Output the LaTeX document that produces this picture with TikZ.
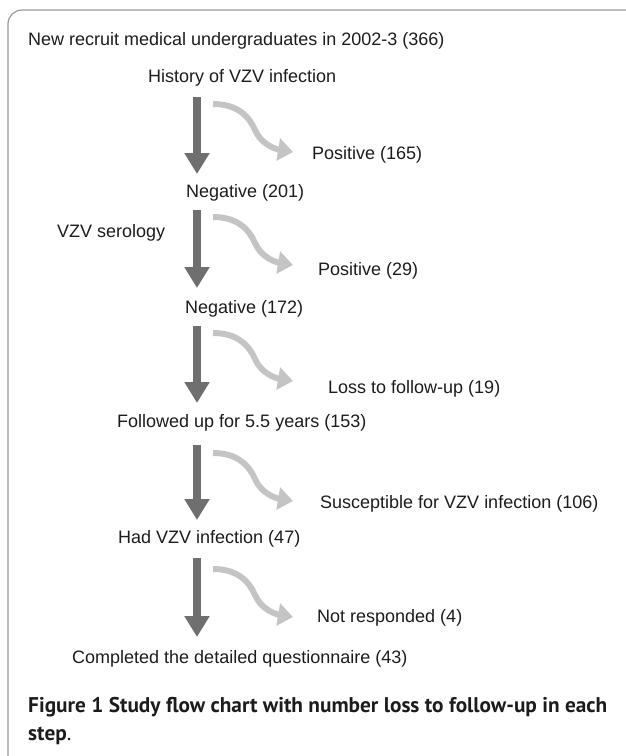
\documentclass[tikz,border=0pt]{standalone}
\usepackage{fontspec}
\setmainfont{Liberation Sans}
\newfontfamily\capfont{PT Sans}
\usepackage{tikz}
\usetikzlibrary{arrows.meta}
\definecolor{framegray}{HTML}{9A9A9A}
\definecolor{darkflow}{HTML}{6F6F6F}
\definecolor{paleflow}{HTML}{C4C4C4}
\definecolor{inkblack}{HTML}{1C1C1C}

\begin{document}
\begin{tikzpicture}[x=1pt,y=-1pt,every node/.style={inner sep=0pt,anchor=base west,text=inkblack,font=\fontsize{18}{21}\selectfont},
  mainflow/.style={draw=darkflow,line width=8pt,-{Triangle[length=21pt,width=24pt]}},
  lossflow/.style={draw=paleflow,line width=6pt,-{Triangle[length=15pt,width=22pt]}}]
\useasboundingbox (0,0) rectangle (626,756);
\draw[framegray,line width=1.2pt,rounded corners=14pt] (8,756) -- (8,10) -- (626,10);

\node (title) at (28,45) {New recruit medical undergraduates in 2002-3 (366)};
\node (hist) at (148,82) {History of VZV infection};
\node (pos1) at (312,159) {Positive (165)};
\node (neg1) at (186,197) {Negative (201)};
\node (sero) at (57,237) {VZV serology};
\node (pos2) at (318,275) {Positive (29)};
\node (neg2) at (185,313) {Negative (172)};
\node (loss) at (328,393) {Loss to follow-up (19)};
\node (follow) at (117,427) {Followed up for 5.5 years (153)};
\node (susc) at (320,508) {Susceptible for VZV infection (106)};
\node (had) at (118,543) {Had VZV infection (47)};
\node (noresp) at (317,622) {Not responded (4)};
\node (done) at (72,663) {Completed the detailed questionnaire (43)};

\node[font=\capfont\bfseries\fontsize{21.3}{25}\selectfont] (cap1) at (28,712) {Figure 1 Study flow chart with number loss to follow-up in each};
\node[font=\capfont\fontsize{21.3}{25}\selectfont] (cap2) at (28,740) {\textbf{step}.};

% main stream
\coordinate (m1a) at (197,97);  \coordinate (m1b) at (197,174);
\coordinate (m2a) at (197,210); \coordinate (m2b) at (197,288);
\coordinate (m3a) at (197,326); \coordinate (m3b) at (197,403);
\coordinate (m4a) at (197,445); \coordinate (m4b) at (197,520);
\coordinate (m5a) at (197,558); \coordinate (m5b) at (197,637);
\draw[mainflow] (m1a) -- (m1b);
\draw[mainflow] (m2a) -- (m2b);
\draw[mainflow] (m3a) -- (m3b);
\draw[mainflow] (m4a) -- (m4b);
\draw[mainflow] (m5a) -- (m5b);

% drop-outs
\coordinate (l1a) at (213,104); \coordinate (l1b) at (293,152);
\coordinate (l2a) at (213,217); \coordinate (l2b) at (293,265);
\coordinate (l3a) at (213,333); \coordinate (l3b) at (293,381);
\coordinate (l4a) at (213,453); \coordinate (l4b) at (293,501);
\coordinate (l5a) at (213,569); \coordinate (l5b) at (293,617);
\draw[lossflow] (l1a) .. controls +(24,0) and +(-6,-14) .. ++(42,26) .. controls +(6,14) and +(-18,-3) .. (l1b);
\draw[lossflow] (l2a) .. controls +(24,0) and +(-6,-14) .. ++(42,26) .. controls +(6,14) and +(-18,-3) .. (l2b);
\draw[lossflow] (l3a) .. controls +(24,0) and +(-6,-14) .. ++(42,26) .. controls +(6,14) and +(-18,-3) .. (l3b);
\draw[lossflow] (l4a) .. controls +(24,0) and +(-6,-14) .. ++(42,26) .. controls +(6,14) and +(-18,-3) .. (l4b);
\draw[lossflow] (l5a) .. controls +(24,0) and +(-6,-14) .. ++(42,26) .. controls +(6,14) and +(-18,-3) .. (l5b);
\end{tikzpicture}
\end{document}
